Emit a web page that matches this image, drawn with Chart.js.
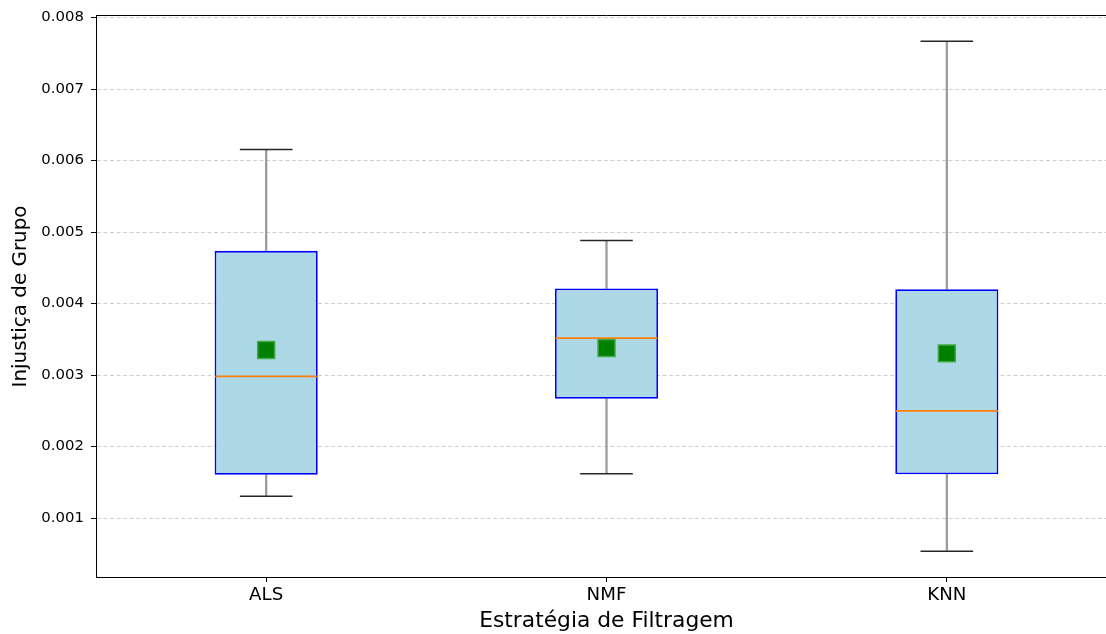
<!DOCTYPE html>
<html>
<head>
<meta charset="utf-8">
<script src="https://cdn.jsdelivr.net/npm/chart.js@4.4.1/dist/chart.umd.min.js"></script>
<style>
  html, body { margin: 0; padding: 0; background: #ffffff; overflow: hidden; }
  #wrap { width: 1118px; height: 634px; }
</style>
</head>
<body>
<div id="wrap"><canvas id="c" width="1118" height="634"></canvas></div>
<script>
// ---- data ----
const categories = ['ALS', 'NMF', 'KNN'];
const whiskerLow  = [0.001303, 0.001619, 0.000534];
const q1          = [0.001605, 0.002668, 0.001611];
const median      = [0.002981, 0.003516, 0.002500];
const q3          = [0.004737, 0.004211, 0.004201];
const whiskerHigh = [0.006155, 0.004882, 0.007669];
const means       = [0.003349, 0.003379, 0.003303];
const yTicks      = [0.001, 0.002, 0.003, 0.004, 0.005, 0.006, 0.007, 0.008];
const yMin = 0.000175;
const yMax = 0.008022;
const xTitle = 'Estratégia de Filtragem';
const yTitle = 'Injustiça de Grupo';

const FONT = 'DejaVu Sans';

const topSpine = {
  id: 'topSpine',
  afterDraw(chart) {
    const {ctx, chartArea} = chart;
    const y = Math.floor(chartArea.top) - 0.5;
    ctx.save();
    ctx.strokeStyle = '#000000';
    ctx.lineWidth = 1;
    ctx.beginPath();
    ctx.moveTo(chartArea.left, y);
    ctx.lineTo(chartArea.right, y);
    ctx.stroke();
    ctx.restore();
  }
};

new Chart(document.getElementById('c'), {
  type: 'bar',
  data: {
    labels: categories,
    datasets: [
      {
        type: 'line', label: 'mean', data: means, showLine: false,
        pointStyle: 'rect', pointRadius: 12, backgroundColor: '#008000',
        borderColor: '#44a844', borderWidth: 1.5, order: 0
      },
      {
        type: 'line', label: 'median', data: median, showLine: false,
        pointStyle: 'line', pointRadius: 51, borderColor: '#ff7f0e',
        borderWidth: 1.8, order: 1
      },
      {
        type: 'line', label: 'capLow', data: whiskerLow, showLine: false,
        pointStyle: 'line', pointRadius: 26.3, borderColor: '#262626',
        borderWidth: 1.5, order: 2
      },
      {
        type: 'line', label: 'capHigh', data: whiskerHigh, showLine: false,
        pointStyle: 'line', pointRadius: 26.3, borderColor: '#262626',
        borderWidth: 1.5, order: 2
      },
      {
        label: 'box', data: categories.map((c, i) => [q1[i], q3[i]]),
        backgroundColor: '#add8e6', borderColor: '#0000ff', borderWidth: 1.8,
        borderSkipped: false, barPercentage: 0.303, categoryPercentage: 1.0,
        grouped: false, order: 3
      },
      {
        label: 'whiskerLow', data: categories.map((c, i) => [whiskerLow[i], q1[i]]),
        backgroundColor: '#9a9a9a', borderWidth: 0, barThickness: 1.6,
        grouped: false, order: 4
      },
      {
        label: 'whiskerHigh', data: categories.map((c, i) => [q3[i], whiskerHigh[i]]),
        backgroundColor: '#9a9a9a', borderWidth: 0, barThickness: 1.6,
        grouped: false, order: 4
      }
    ]
  },
  options: {
    responsive: false,
    animation: false,
    events: [],
    layout: { autoPadding: false, padding: { top: 16, left: 0, right: 1, bottom: 0 } },
    plugins: { legend: { display: false }, tooltip: { enabled: false } },
    scales: {
      x: {
        type: 'category',
        offset: true,
        grid: { display: true, drawOnChartArea: false, drawTicks: true, tickLength: 5,
                tickColor: '#000000', tickWidth: 1, offset: false, color: '#000000' },
        border: { display: true, color: '#000000', width: 1 },
        ticks: { color: '#000000', padding: 2, font: { family: FONT, size: 18.2 } },
        title: { display: true, text: xTitle, color: '#000000',
                 padding: { top: 0, bottom: 0 }, font: { family: FONT, size: 21.8 } },
        afterFit(scale) { scale.height = 57; }
      },
      y: {
        type: 'linear',
        min: yMin, max: yMax,
        afterBuildTicks(scale) { scale.ticks = yTicks.map(v => ({ value: v })); },
        grid: { display: true, drawOnChartArea: true, drawTicks: true, tickLength: 5,
                color: '#cfcfcf', lineWidth: 1, tickColor: '#000000', tickWidth: 1 },
        border: { display: true, color: '#000000', width: 1, dash: [4, 2.5] },
        ticks: { color: '#000000', padding: 7, font: { family: FONT, size: 14.9 },
                 callback: (v) => Number(v).toFixed(3) },
        title: { display: true, text: yTitle, color: '#000000',
                 padding: { top: 8.6, bottom: 0 }, font: { family: FONT, size: 19.9 } },
        afterFit(scale) { scale.width = 96; }
      }
    }
  },
  plugins: [topSpine]
});
</script>
</body>
</html>
